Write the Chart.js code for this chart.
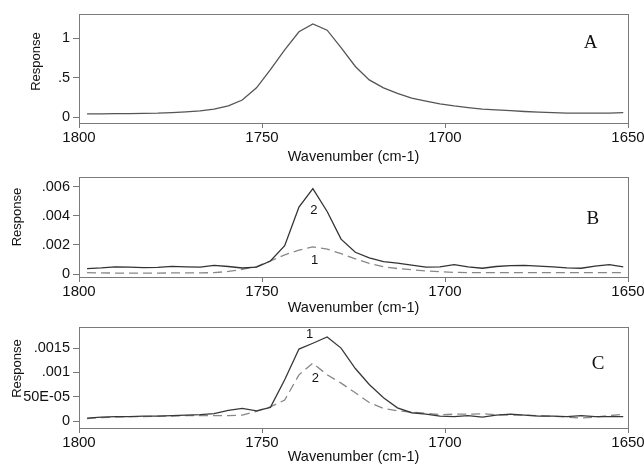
<!DOCTYPE html>
<html>
<head>
<meta charset="utf-8">
<script src="https://cdn.jsdelivr.net/npm/chart.js@4.4.0/dist/chart.umd.min.js"></script>
<style>
body { margin: 0; background: #fff; }
#wrap { position: relative; width: 644px; height: 464px; overflow: hidden; }
canvas { position: absolute; left: 0; }
</style>
</head>
<body>
<div id="wrap">
<canvas id="chartA" width="644" height="170" style="top:0px"></canvas>
<canvas id="chartB" width="644" height="160" style="top:160px"></canvas>
<canvas id="chartC" width="644" height="154" style="top:310px"></canvas>
</div>
<script>
// spectral axis (cm-1), shared by all three panels
var wavenumbers = [1797.8, 1793.9, 1790.1, 1786.2, 1782.4, 1778.5, 1774.6, 1770.8, 1766.9, 1763.1,
	1759.2, 1755.4, 1751.5, 1747.7, 1743.8, 1739.9, 1736.1, 1732.2, 1728.4, 1724.5,
	1720.7, 1716.8, 1713.0, 1709.1, 1705.2, 1701.4, 1697.5, 1693.7, 1689.8, 1686.0,
	1682.1, 1678.3, 1674.4, 1670.5, 1666.7, 1662.8, 1659.0, 1655.1, 1651.3];

// panel A
var responseA = [0.040, 0.040, 0.042, 0.043, 0.045, 0.048, 0.055, 0.065, 0.078, 0.100,
	0.140, 0.215, 0.370, 0.600, 0.850, 1.080, 1.180, 1.100, 0.880, 0.640,
	0.470, 0.370, 0.300, 0.240, 0.200, 0.165, 0.140, 0.120, 0.100, 0.090,
	0.080, 0.070, 0.062, 0.055, 0.050, 0.048, 0.048, 0.050, 0.055];

// panel B: curve 2 (solid) and curve 1 (dashed)
var responseB2 = [0.00038, 0.00042, 0.00049, 0.00048, 0.00045, 0.00046, 0.00053, 0.00050, 0.00048, 0.00060,
	0.00052, 0.00042, 0.00048, 0.00090, 0.00195, 0.00460, 0.00587, 0.00430, 0.00240, 0.00150,
	0.00112, 0.00085, 0.00075, 0.00062, 0.00048, 0.00050, 0.00065, 0.00050, 0.00040, 0.00052,
	0.00058, 0.00060, 0.00055, 0.00050, 0.00042, 0.00040, 0.00055, 0.00065, 0.00050];
var responseB1 = [0.00010, 0.00008, 0.00007, 0.00007, 0.00007, 0.00007, 0.00008, 0.00008, 0.00008, 0.00010,
	0.00018, 0.00032, 0.00052, 0.00090, 0.00132, 0.00165, 0.00187, 0.00172, 0.00140, 0.00105,
	0.00073, 0.00050, 0.00038, 0.00030, 0.00022, 0.00016, 0.00012, 0.00010, 0.00010, 0.00010,
	0.00010, 0.00010, 0.00010, 0.00010, 0.00010, 0.00010, 0.00010, 0.00010, 0.00010];

// panel C: curve 1 (solid) and curve 2 (dashed)
var responseC1 = [0.00006, 0.00008, 0.00009, 0.00009, 0.00010, 0.00010, 0.00011, 0.00012, 0.00013, 0.00015,
	0.00022, 0.00026, 0.00021, 0.00028, 0.00085, 0.00148, 0.00160, 0.00173, 0.00150, 0.00108,
	0.00075, 0.00048, 0.00027, 0.00017, 0.00014, 0.00010, 0.00009, 0.00011, 0.00008, 0.00012,
	0.00014, 0.00012, 0.00010, 0.00010, 0.00009, 0.00011, 0.00009, 0.00009, 0.00009];
var responseC2 = [0.00005, 0.00007, 0.00008, 0.00009, 0.00009, 0.00010, 0.00010, 0.00011, 0.00011, 0.00011,
	0.00011, 0.00012, 0.00020, 0.00029, 0.00043, 0.00095, 0.00119, 0.00095, 0.00078, 0.00058,
	0.00038, 0.00026, 0.00021, 0.00018, 0.00016, 0.00013, 0.00014, 0.00014, 0.00015, 0.00013,
	0.00012, 0.00012, 0.00011, 0.00010, 0.00008, 0.00006, 0.00008, 0.00011, 0.00014];

// tick values and their printed labels
var xTicks = [1800, 1750, 1700, 1650];
var xTickLabels = ["1800", "1750", "1700", "1650"];
var yTicksA = [0, 0.5, 1];
var yLabelsA = ["0", ".5", "1"];
var yTicksB = [0, 0.002, 0.004, 0.006];
var yLabelsB = ["0", ".002", ".004", ".006"];
var yTicksC = [0, 0.0005, 0.001, 0.0015];
var yLabelsC = ["0", "50E-05", ".001", ".0015"];

var SANS = '"Liberation Sans", Arial, sans-serif';
var SERIF = '"Liberation Serif", "Times New Roman", serif';

// frame, rotated y title, panel letter and curve numbers
var panelDecor = {
	id: "panelDecor",
	afterDraw: function (chart, args, opts) {
		var ctx = chart.ctx;
		var a = chart.chartArea;
		var sx = chart.scales.x;
		var sy = chart.scales.y;
		ctx.save();
		ctx.strokeStyle = "#7a7a7a";
		ctx.lineWidth = 1;
		ctx.strokeRect(Math.round(a.left) + 0.5, Math.round(a.top) + 0.5,
			Math.round(a.right - a.left), Math.round(a.bottom - a.top));

		ctx.fillStyle = "#111";
		ctx.textAlign = "center";
		ctx.textBaseline = "middle";

		ctx.save();
		ctx.font = opts.titleSize + "px " + SANS;
		ctx.translate(opts.titleX, (a.top + a.bottom) / 2 + opts.titleShift);
		ctx.rotate(-Math.PI / 2);
		ctx.fillText("Response", 0, 0);
		ctx.restore();

		ctx.font = "19px " + SERIF;
		ctx.fillText(opts.letter.text, sx.getPixelForValue(opts.letter.x), sy.getPixelForValue(opts.letter.y));

		ctx.font = "13px " + SANS;
		(opts.curveLabels || []).forEach(function (l) {
			ctx.fillText(l.text, sx.getPixelForValue(l.x), sy.getPixelForValue(l.y));
		});
		ctx.restore();
	},
};

function makePanel(id, p) {
	return new Chart(document.getElementById(id), {
		type: "line",
		data: {
			datasets: p.series.map(function (s) {
				return {
					data: wavenumbers.map(function (w, i) {
						return { x: w, y: s.values[i] };
					}),
					borderColor: s.color,
					borderWidth: 1.3,
					borderDash: s.dash || [],
					pointRadius: 0,
					tension: 0,
					fill: false,
				};
			}),
		},
		plugins: [panelDecor],
		options: {
			responsive: false,
			animation: false,
			devicePixelRatio: 1,
			events: [],
			layout: { padding: { top: p.padTop, right: 16, bottom: 0, left: 0 } },
			plugins: {
				legend: { display: false },
				tooltip: { enabled: false },
				panelDecor: p.decor,
			},
			scales: {
				x: {
					type: "linear",
					reverse: true,
					min: 1650,
					max: 1800,
					afterBuildTicks: function (sc) {
						sc.ticks = xTicks.map(function (v) { return { value: v }; });
					},
					afterFit: function (sc) {
						sc.height = p.xHeight;
						sc.paddingLeft = 0;
						sc.paddingRight = 0;
					},
					grid: { drawOnChartArea: false, drawTicks: true, tickLength: 5, color: "#777" },
					border: { display: false },
					ticks: {
						padding: 1,
						color: "#111",
						maxRotation: 0,
						autoSkip: false,
						font: { family: SANS, size: 15 },
						callback: function (v, i) { return xTickLabels[i]; },
					},
					title: {
						display: true,
						text: "Wavenumber (cm-1)",
						color: "#111",
						font: { family: SANS, size: 14.5, lineHeight: 1 },
						padding: { top: 0, bottom: p.xTitlePad },
					},
				},
				y: {
					min: p.yMin,
					max: p.yMax,
					afterBuildTicks: function (sc) {
						sc.ticks = p.yTicks.map(function (v) { return { value: v }; });
					},
					afterFit: function (sc) {
						sc.width = 79;
						sc.paddingTop = 0;
						sc.paddingBottom = 0;
					},
					grid: { drawOnChartArea: false, drawTicks: true, tickLength: 6, color: "#777" },
					border: { display: false },
					ticks: {
						padding: 3,
						color: "#111",
						font: { family: SANS, size: 14.5 },
						callback: function (v, i) { return p.yLabels[i]; },
					},
				},
			},
		},
	});
}

makePanel("chartA", {
	padTop: 14, xHeight: 47, xTitlePad: 6,
	yMin: -0.076, yMax: 1.305, yTicks: yTicksA, yLabels: yLabelsA,
	series: [{ values: responseA, color: "#555555" }],
	decor: { titleX: 36, titleShift: -7, titleSize: 13, letter: { text: "A", x: 1660.2, y: 0.94 } },
});

makePanel("chartB", {
	padTop: 17, xHeight: 43, xTitlePad: 5,
	yMin: -0.0002, yMax: 0.00667, yTicks: yTicksB, yLabels: yLabelsB,
	series: [
		{ values: responseB2, color: "#333333" },
		{ values: responseB1, color: "#888888", dash: [9, 5] },
	],
	decor: {
		titleX: 17, titleShift: -10, titleSize: 13,
		letter: { text: "B", x: 1659.6, y: 0.0038 },
		curveLabels: [{ text: "2", x: 1735.8, y: 0.0044 }, { text: "1", x: 1735.6, y: 0.00093 }],
	},
});

makePanel("chartC", {
	padTop: 17, xHeight: 36, xTitlePad: 0,
	yMin: -0.000144, yMax: 0.001934, yTicks: yTicksC, yLabels: yLabelsC,
	series: [
		{ values: responseC1, color: "#383838" },
		{ values: responseC2, color: "#888888", dash: [9, 5] },
	],
	decor: {
		titleX: 17, titleShift: -9, titleSize: 13,
		letter: { text: "C", x: 1658.2, y: 0.00117 },
		curveLabels: [{ text: "1", x: 1737, y: 0.00179 }, { text: "2", x: 1735.4, y: 0.00088 }],
	},
});
</script>
</body>
</html>
